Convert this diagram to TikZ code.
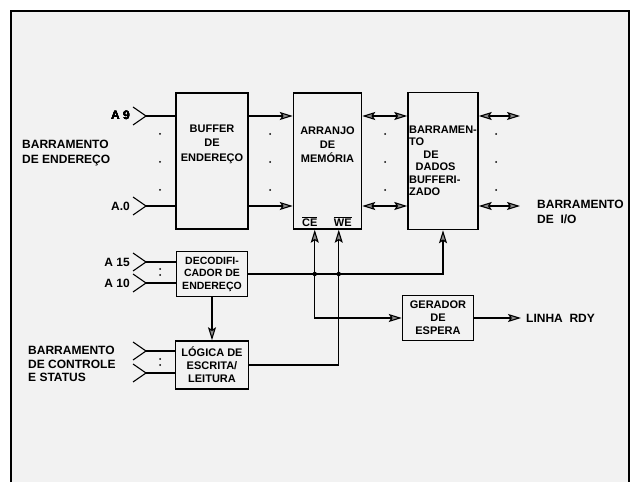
\documentclass[tikz,border=0pt]{standalone}
\usepackage{fontspec}
\setmainfont{Liberation Sans}
\usepackage{tikz}
\usetikzlibrary{arrows.meta,positioning,calc}
\definecolor{paper}{RGB}{242,242,242}
\definecolor{tipgray}{RGB}{140,140,140}
% bus entry chevron at a named tip
\newcommand{\businput}[1]{\draw[wire] (#1) ++(-13,-9) -- (#1) -- ++(-13,9);}

\begin{document}
\begin{tikzpicture}[x=1pt,y=1pt,
  blk/.style={rectangle, draw=black, line width=1.5pt, inner sep=1pt, align=center,
    font=\bfseries\fontsize{11}{13}\selectfont},
  txt/.style={inner sep=0pt, align=center, font=\bfseries\fontsize{11}{14.5}\selectfont},
  lbl/.style={inner sep=0pt, align=left, font=\bfseries\fontsize{12}{15}\selectfont},
  wire/.style={line width=1.1pt, black},
  arr/.style={wire, -{Stealth[length=13pt,width=8pt,inset=2.5pt,fill=tipgray]}},
  darr/.style={wire, {Stealth[length=13pt,width=8pt,inset=2.5pt,fill=tipgray]}-{Stealth[length=13pt,width=8pt,inset=2.5pt,fill=tipgray]}},
  bdot/.style={circle, fill=black, inner sep=0pt, minimum size=2pt}]
\useasboundingbox (0,0) rectangle (634,482);
\fill[paper] (11,0) rectangle (629,471);
\draw[line width=1.4pt] (11,0) -- (11,471) -- (629,471) -- (629,0);

% blocks
\node[blk, minimum width=72pt, minimum height=136pt] (buf) at (212,321) {};
\node[txt] (bufT) at ($(buf)+(0,17)$) {BUFFER\\DE\\ENDEREÇO};
\node[blk, minimum width=68pt, minimum height=136pt, right=44pt of buf] (mem) {};
\node[txt, font=\bfseries\fontsize{11}{14}\selectfont] (memT) at ($(mem)+(0,16)$)
  {ARRANJO\\DE\\MEMÓRIA};
\node[blk, minimum width=70pt, minimum height=137pt, right=45pt of mem, align=left,
  font=\bfseries\fontsize{11}{12.5}\selectfont] (dad)
  {BARRAMEN-\\TO\\\hspace*{1.3em}DE\\\hspace*{0.6em}DADOS\\BUFFERI-\\ZADO};
\node[blk, minimum width=71pt, minimum height=45pt, below=21pt of buf,
  font=\bfseries\fontsize{10.5}{12.5}\selectfont] (dec) {DECODIFI-\\CADOR DE\\ENDEREÇO};
\node[blk, minimum width=73pt, minimum height=48pt, below=43pt of dec] (log)
  {LÓGICA DE\\ESCRITA/\\LEITURA};
\node[blk, minimum width=71pt, minimum height=45pt] (ger) at (438,164)
  {GERADOR\\DE\\ESPERA};
\node[txt, anchor=south] (ceT) at ($(mem.south west)+(17,3)$) {$\overline{\mbox{\bfseries CE}}$};
\node[txt, anchor=south] (weT) at ($(mem.south west)+(50,3)$) {$\overline{\mbox{\bfseries WE}}$};

% bus entries
\coordinate (a9) at (146,366);
\coordinate (a0) at (146,276);
\coordinate (a15) at (146,220);
\coordinate (a10) at (146,199);
\coordinate (c1) at (146,131);
\coordinate (c2) at (146,109);
\foreach \p in {a9,a0,a15,a10,c1,c2}
  \businput{\p}
\node[lbl, anchor=east] (a9T) at (130,367) {A 9};
\node[lbl, anchor=east] (a0T) at (130,276) {A.0};
\node[lbl, anchor=east] (a15T) at (130,220) {A 15};
\node[lbl, anchor=east] (a10T) at (130,199) {A 10};
\node[lbl, anchor=west] (endT) at (22,329) {BARRAMENTO\\DE ENDEREÇO};
\node[lbl, anchor=west, font=\bfseries\fontsize{12}{13.5}\selectfont] (ctlT) at (28,118)
  {BARRAMENTO\\DE CONTROLE\\E STATUS};
\node[lbl, anchor=west] (ioT) at (537,270) {BARRAMENTO\\DE\ \ I/O};
\node[lbl, anchor=west, inner sep=5pt] (rdy) at (521,164) {LINHA\ \ RDY};

\foreach \p in {a9,a0}
  \draw[wire] (\p) -- (\p -| buf.west);
\foreach \p in {a15,a10}
  \draw[wire] (\p) -- (\p -| dec.west);
\foreach \p in {c1,c2}
  \draw[wire] (\p) -- (\p -| log.west);

% data and address buses
\coordinate (io9) at (520,366);
\coordinate (io0) at (520,276);
\foreach \p in {a9,a0} {
  \draw[arr] (\p -| buf.east) -- (\p -| mem.west);
  \draw[darr] (\p -| mem.east) -- (\p -| dad.west);
}
\draw[darr] (dad.east |- io9) -- (io9);
\draw[darr] (dad.east |- io0) -- (io0);
\foreach \x in {160,270,385,496}
  \foreach \y in {348,320,292}
    \node[bdot] at (\x,\y) {};
\foreach \y in {207,213}
  \node[bdot] at (160,\y) {};
\foreach \y in {117,123}
  \node[bdot] at (160,\y) {};

% control lines
\coordinate (ce) at ($(mem.south west)+(22,0)$);
\coordinate (we) at ($(mem.south west)+(46,0)$);
\draw[arr] (dec.east) -- (dec.east -| dad.south) -- (dad.south);
\draw[arr] (dec.east -| ce) -- (ce);
\draw[arr] (dec.east -| ce) -- (ger.west -| ce) -- (ger.west);
\draw[arr] (log.east) -- (log.east -| we) -- (we);
\draw[arr] (dec.south) -- (log.north);
\draw[arr] (ger.east) -- (rdy.west);
\node[bdot, minimum size=4.5pt] (jce) at (dec.east -| ce) {};
\node[bdot, minimum size=4.5pt] (jwe) at (dec.east -| we) {};
\end{tikzpicture}
\end{document}
